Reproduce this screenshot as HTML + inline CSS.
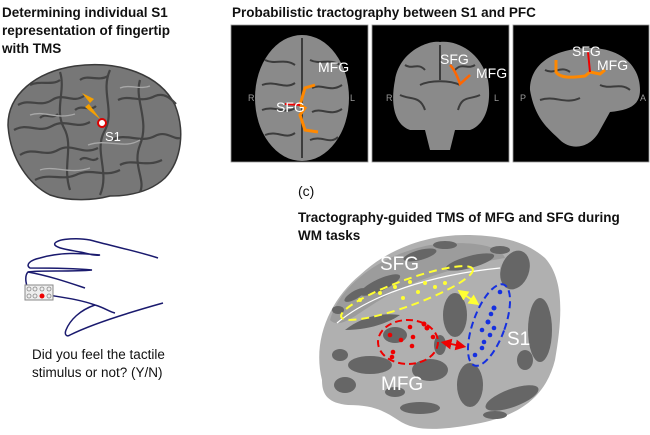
<!DOCTYPE html>
<html><head><meta charset="utf-8"><style>
html,body{margin:0;padding:0;background:#fff;}
svg{display:block;font-family:"Liberation Sans",Arial,sans-serif;}
</style></head><body>
<svg width="650" height="435" viewBox="0 0 650 435" xmlns="http://www.w3.org/2000/svg">
<defs>
<marker id="ay" markerWidth="6" markerHeight="6" refX="3" refY="3" orient="auto-start-reverse"><path d="M0,0 L6,3 L0,6 Z" fill="#ffff33"/></marker>
<marker id="ar" markerWidth="6" markerHeight="6" refX="3" refY="3" orient="auto-start-reverse"><path d="M0,0 L6,3 L0,6 Z" fill="#e00"/></marker>
</defs>
<g font-weight="bold" font-size="13.5" fill="#111">
<text x="2" y="17">Determining individual S1</text>
<text x="2" y="35">representation of fingertip</text>
<text x="2" y="53">with TMS</text>
</g>
<!-- left brain -->
<path d="M50,195 C30,185 10,160 8,125 C8,95 35,72 75,66 C120,60 160,75 175,105 C185,130 182,160 165,178 C150,192 130,196 110,196 C95,200 70,202 50,195 Z" fill="#777" stroke="#3a3a3a" stroke-width="1.5"/>
<g stroke="#444" stroke-width="2.2" fill="none">
<path d="M18,105 C30,98 40,108 52,100 C64,92 72,104 84,96"/>
<path d="M14,130 C28,122 38,134 52,126 C66,118 76,130 90,122"/>
<path d="M20,155 C34,146 44,158 58,150 C72,142 82,156 98,148"/>
<path d="M35,180 C50,172 62,182 78,174 C94,168 104,178 120,170"/>
<path d="M60,72 C66,90 54,110 64,128 C74,146 62,166 70,190"/>
<path d="M110,70 C100,92 116,112 104,132 C94,152 110,172 100,195"/>
<path d="M140,80 C134,100 150,120 140,145 C132,165 146,180 140,192"/>
<path d="M118,100 C130,94 140,104 155,96 C165,92 172,100 176,104"/>
<path d="M112,140 C126,132 140,144 155,136 C166,130 174,140 180,138"/>
<path d="M30,85 C40,80 52,86 60,80"/>
<path d="M80,80 C88,74 98,82 108,76"/>
<path d="M120,165 C132,158 146,168 162,160"/>
<path d="M40,118 C46,112 52,120 58,114"/>
<path d="M75,110 C82,104 90,112 96,106"/>
<path d="M80,160 C86,154 92,164 98,158"/>
</g>
<g stroke="#a8a8a8" stroke-width="1.3" fill="none">
<path d="M30,115 C45,110 55,120 75,114"/>
<path d="M88,145 C108,138 124,150 140,140"/>
<path d="M40,170 C55,165 70,175 90,168"/>
<path d="M120,88 C130,84 140,90 150,86"/>
</g>
<path d="M82,93 L94,99 L89,104 L101,120 L85,107 L90,103 Z" fill="#f5a000"/>
<circle cx="102" cy="123" r="4" fill="#fff" stroke="#d00" stroke-width="2"/>
<text x="105" y="141" font-size="13" fill="#fff">S1</text>
<!-- hand -->
<g stroke="#1a1a6e" stroke-width="1.5" fill="none">
<path d="M55,243 C60,238 80,238 90,240 C120,248 140,252 158,258"/>
<path d="M55,243 C52,248 70,250 80,252 C90,254 95,256 100,255 C80,253 60,252 40,258 C30,260 25,265 30,268 C50,268 70,268 92,270 C70,272 40,270 28,272 C24,276 26,288 30,290"/>
<path d="M30,290 C40,296 70,296 95,305 C105,308 110,312 115,313"/>
<path d="M28,272 C50,276 70,283 85,288"/>
<path d="M95,305 C80,310 70,320 66,330 C64,335 67,337 70,335 C90,325 120,315 163,303"/>
</g>
<rect x="25" y="285" width="28" height="15" fill="#eee" stroke="#888" stroke-width="1"/>
<g fill="none" stroke="#888" stroke-width="0.8">
<circle cx="29" cy="289" r="2"/><circle cx="35" cy="289" r="2"/><circle cx="42" cy="289" r="2"/><circle cx="49" cy="289" r="2"/>
<circle cx="29" cy="296" r="2"/><circle cx="35" cy="296" r="2"/><circle cx="49" cy="296" r="2"/>
</g>
<circle cx="42" cy="296" r="2.5" fill="#e00"/>
<g font-size="13.5" fill="#111">
<text x="32" y="359">Did you feel the tactile</text>
<text x="32" y="377">stimulus or not? (Y/N)</text>
</g>
<text x="232" y="17" font-size="13.5" font-weight="bold" fill="#111">Probabilistic tractography between S1 and PFC</text>
<!-- panel 1 -->
<rect x="231" y="25" width="137" height="137" fill="#000" stroke="#999" stroke-width="0.8"/>
<ellipse cx="302" cy="98" rx="47" ry="63" fill="#8a8a8a"/>
<g stroke="#3c3c3c" stroke-width="2" fill="none">
<path d="M302,38 L302,158"/>
<path d="M265,60 C275,65 285,58 295,65"/><path d="M262,85 C275,80 285,90 295,83"/><path d="M262,110 C275,105 285,115 295,108"/><path d="M265,135 C278,130 285,140 295,133"/>
<path d="M310,60 C320,65 330,58 340,65"/><path d="M312,88 C322,83 330,93 342,85"/><path d="M312,112 C322,107 330,117 342,109"/><path d="M310,140 C322,135 330,145 338,137"/>
</g>
<path d="M315,85 L305,88 L300,105 L305,108 L300,115 L305,130 L318,132" stroke="#ff8800" stroke-width="3" fill="none"/>
<path d="M285,104 L300,105" stroke="#e00" stroke-width="2"/>
<g fill="#fff" font-size="14"><text x="318" y="72">MFG</text><text x="276" y="112">SFG</text></g>
<g fill="#999" font-size="9"><text x="248" y="101">R</text><text x="350" y="101">L</text></g>
<!-- panel 2 -->
<rect x="372" y="25" width="137" height="137" fill="#000" stroke="#999" stroke-width="0.8"/>
<path d="M395,80 C400,50 430,40 440,42 C455,40 480,50 488,80 C492,105 485,125 470,130 L455,130 L450,150 L430,150 L425,130 L410,130 C395,125 390,105 395,80 Z" fill="#8a8a8a"/>
<g stroke="#3c3c3c" stroke-width="2" fill="none"><path d="M440,45 L440,80"/><path d="M420,85 C430,80 450,80 460,85"/><path d="M400,95 C410,100 420,95 425,110"/><path d="M480,95 C470,100 462,95 458,110"/><path d="M405,65 C412,70 418,62 425,70"/><path d="M475,65 C468,70 462,62 455,70"/></g>
<path d="M450,65 C455,70 458,78 460,84 L470,75" stroke="#ff6600" stroke-width="2.5" fill="none"/>
<g fill="#fff" font-size="14"><text x="440" y="64">SFG</text><text x="476" y="78">MFG</text></g>
<g fill="#999" font-size="9"><text x="386" y="101">R</text><text x="494" y="101">L</text></g>
<!-- panel 3 -->
<rect x="513" y="25" width="136" height="137" fill="#000" stroke="#999" stroke-width="0.8"/>
<path d="M530,90 C530,60 560,48 590,48 C620,48 640,65 640,90 C640,105 630,110 610,112 L600,130 C590,150 570,150 560,140 C550,130 535,120 530,90 Z" fill="#8a8a8a"/>
<g stroke="#3c3c3c" stroke-width="2" fill="none"><path d="M545,70 C555,75 560,65 570,72"/><path d="M540,100 C555,95 565,105 580,98"/><path d="M600,85 C610,90 620,82 630,90"/></g>
<path d="M556,60 L556,72 C560,78 570,78 585,76 L590,72 L600,74 L605,70" stroke="#ff8800" stroke-width="3" fill="none"/>
<path d="M588,52 L590,72" stroke="#e00" stroke-width="2"/>
<g fill="#fff" font-size="14"><text x="572" y="56">SFG</text><text x="597" y="70">MFG</text></g>
<g fill="#999" font-size="9"><text x="520" y="101">P</text><text x="640" y="101">A</text></g>
<text x="298" y="196" font-size="14" fill="#111">(c)</text>
<g font-weight="bold" font-size="13.5" fill="#111">
<text x="298" y="222">Tractography-guided TMS of MFG and SFG during</text>
<text x="298" y="240">WM tasks</text>
</g>
<!-- inflated brain -->
<path d="M322,380 C312,340 330,300 360,275 C390,247 430,234 470,235 C510,236 530,245 545,258 C565,280 562,320 555,360 C545,400 515,418 470,425 C440,430 415,432 398,420 C383,410 372,405 348,405 C328,403 322,395 322,380 Z" fill="#b0b0b0"/>
<path d="M330,320 C340,285 380,255 430,245 C470,240 500,245 505,258 C480,262 420,275 380,300 C355,315 340,330 330,320 Z" fill="#9c9c9c"/>
<g fill="#666">
<path d="M345,330 C360,318 380,312 400,315 C390,322 370,330 345,330 Z"/>
<ellipse cx="470" cy="262" rx="25" ry="6" transform="rotate(-15 470 262)"/>
<ellipse cx="515" cy="270" rx="14" ry="20" transform="rotate(20 515 270)"/>
<ellipse cx="540" cy="330" rx="12" ry="32"/>
<ellipse cx="455" cy="315" rx="12" ry="22"/>
<ellipse cx="370" cy="365" rx="22" ry="9"/>
<ellipse cx="430" cy="370" rx="18" ry="11"/>
<ellipse cx="470" cy="385" rx="13" ry="22"/>
<ellipse cx="512" cy="398" rx="28" ry="9" transform="rotate(-20 512 398)"/>
<ellipse cx="345" cy="385" rx="11" ry="8"/>
<ellipse cx="420" cy="408" rx="20" ry="6"/>
<ellipse cx="380" cy="285" rx="22" ry="6" transform="rotate(-25 380 285)"/>
<ellipse cx="420" cy="255" rx="17" ry="5" transform="rotate(-15 420 255)"/>
<ellipse cx="395" cy="335" rx="12" ry="8"/>
<ellipse cx="355" cy="295" rx="12" ry="4" transform="rotate(-30 355 295)"/>
<ellipse cx="445" cy="245" rx="12" ry="4"/>
<ellipse cx="500" cy="250" rx="10" ry="4"/>
<ellipse cx="340" cy="355" rx="8" ry="6"/>
<ellipse cx="395" cy="392" rx="10" ry="5"/>
<ellipse cx="525" cy="360" rx="8" ry="10"/>
<ellipse cx="495" cy="415" rx="12" ry="4"/>
<ellipse cx="440" cy="345" rx="6" ry="10"/>
<ellipse cx="338" cy="310" rx="6" ry="4"/>
</g>
<path d="M337,323 C370,295 430,275 500,268" stroke="#fff" stroke-width="1.2" fill="none"/>
<ellipse cx="407" cy="293" rx="70" ry="13" transform="rotate(-20 407 293)" fill="none" stroke="#ffff33" stroke-width="2" stroke-dasharray="8,5"/>
<ellipse cx="408" cy="342" rx="30" ry="22" fill="none" stroke="#e00" stroke-width="2" stroke-dasharray="7,4"/>
<ellipse cx="489" cy="325" rx="16" ry="43" transform="rotate(20 489 325)" fill="none" stroke="#1530e0" stroke-width="2" stroke-dasharray="7,4"/>
<g fill="#ffff33"><circle cx="380" cy="293" r="2"/><circle cx="395" cy="287" r="2"/><circle cx="410" cy="282" r="2"/><circle cx="425" cy="283" r="2"/><circle cx="445" cy="283" r="2"/><circle cx="418" cy="292" r="2"/><circle cx="403" cy="298" r="2"/><circle cx="360" cy="300" r="2"/><circle cx="435" cy="287" r="2"/></g>
<g fill="#e00"><circle cx="390" cy="335" r="2.3"/><circle cx="410" cy="327" r="2.3"/><circle cx="424" cy="324" r="2.5"/><circle cx="427" cy="328" r="2.5"/><circle cx="401" cy="340" r="2.3"/><circle cx="413" cy="337" r="2.3"/><circle cx="433" cy="337" r="2.3"/><circle cx="412" cy="346" r="2.3"/><circle cx="393" cy="352" r="2.3"/><circle cx="392" cy="357" r="2.3"/></g>
<g fill="#1530e0"><circle cx="500" cy="292" r="2.3"/><circle cx="494" cy="308" r="2.5"/><circle cx="491" cy="314" r="2.3"/><circle cx="488" cy="322" r="2.5"/><circle cx="482" cy="330" r="2.3"/><circle cx="494" cy="328" r="2.3"/><circle cx="484" cy="342" r="2.3"/><circle cx="482" cy="348" r="2.3"/><circle cx="475" cy="355" r="2.3"/><circle cx="490" cy="335" r="2.3"/></g>
<line x1="462" y1="293" x2="475" y2="302" stroke="#ffff33" stroke-width="1.8" marker-start="url(#ay)" marker-end="url(#ay)"/>
<line x1="446" y1="343" x2="461" y2="346" stroke="#e00" stroke-width="1.8" marker-start="url(#ar)" marker-end="url(#ar)"/>
<g fill="#fff" font-size="19"><text x="380" y="270">SFG</text><text x="381" y="390">MFG</text><text x="507" y="345">S1</text></g>
</svg>
</body></html>
